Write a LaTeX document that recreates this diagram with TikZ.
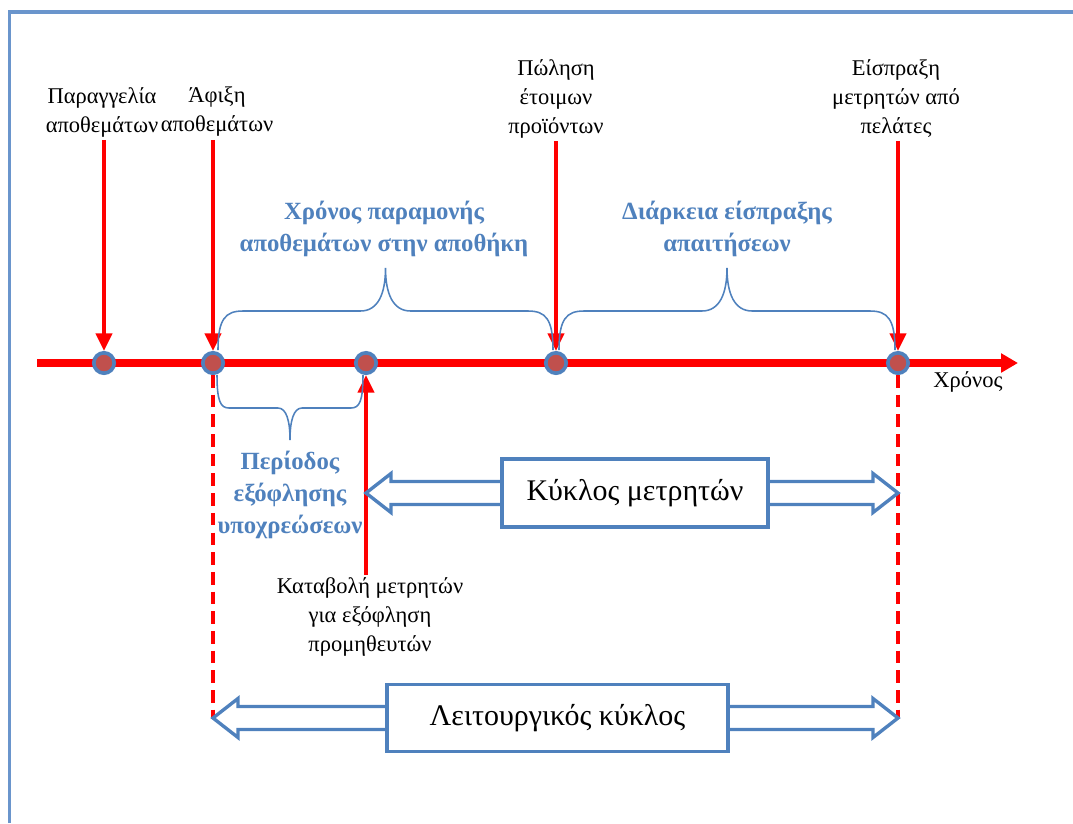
\documentclass[tikz,border=0pt]{standalone}
\usepackage{fontspec}
\setmainfont{Liberation Serif}
\usetikzlibrary{calc,arrows.meta}
\definecolor{tred}{HTML}{FF0000}
\definecolor{tblue}{HTML}{4F81BD}
\definecolor{tdot}{HTML}{C0504D}
\definecolor{tframe}{HTML}{6A95CC}
\tikzset{
  axis/.style   = {draw=tred, line width=5pt, -{Triangle[length=12pt,width=13pt]}},
  ev/.style     = {draw=tred, line width=2.6pt, -{Triangle[length=12.5pt,width=11.5pt]}},
  dsh/.style    = {draw=tred, line width=2.6pt, dash pattern=on 9pt off 5pt},
  dot/.style    = {circle, fill=tdot, draw=tblue, line width=2.6pt, minimum size=14.5pt, inner sep=0pt},
  lbl/.style    = {align=center, font=\fontsize{16}{20.6}\selectfont, inner sep=2pt},
  per/.style    = {align=center, font=\fontsize{17.6}{22.7}\selectfont\bfseries, text=tblue},
  brc/.style    = {draw=tblue, line width=1.1pt},
  cyc/.style    = {draw=tblue, line width=2.4pt, line join=miter},
  cycbox/.style = {cyc, fill=white, font=\fontsize{21.3}{25}\selectfont},
  frame/.style  = {draw=tframe, line width=2.2pt},
}
% curly brace between two points: level, tip and curl in px
\newcommand\spanbrace[5]{%
  \coordinate (bm) at ($(#1)!0.5!(#2)$);
  \draw[brc] (#1) .. controls +(0,{0.8*(#3)}) and +({-0.7*(#5)},0) .. ($(#1)+(#5,#3)$)
    -- ($(bm)+(-#5,#3)$) .. controls +({0.7*(#5)},0) and +(0,{0.6*(#3)-0.6*(#4)}) .. ($(bm)+(0,#4)$)
    .. controls +(0,{0.6*(#3)-0.6*(#4)}) and +({-0.7*(#5)},0) .. ($(bm)+(#5,#3)$)
    -- ($(#2)+(-#5,#3)$) .. controls +({0.7*(#5)},0) and +(0,{0.8*(#3)}) .. (#2);
}
% hollow double arrow on both sides of a box node
\newcommand\cyclearrow[3]{%
  \draw[cyc] ($(#1.west)+(0,-11.5)$) -- ($(#2)+(25,-11.5)$) -- ($(#2)+(25,-19.5)$) -- (#2)
    -- ($(#2)+(25,19.5)$) -- ($(#2)+(25,11.5)$) -- ($(#1.west)+(0,11.5)$);
  \draw[cyc] ($(#1.east)+(0,-11.5)$) -- ($(#3)+(-25,-11.5)$) -- ($(#3)+(-25,-19.5)$) -- (#3)
    -- ($(#3)+(-25,19.5)$) -- ($(#3)+(-25,11.5)$) -- ($(#1.east)+(0,11.5)$);
}

\begin{document}
\begin{tikzpicture}[x=0.025cm, y=-0.025cm]
\useasboundingbox (0,0) rectangle (1073,823);
\draw[frame] (9.5,823) -- (9.5,12) -- (1073,12);

% time axis
\coordinate (t0) at (37,363);
\coordinate (t1) at (1018,363);
\draw[axis] (t0) -- (t1);
\node[lbl] (ax) at (968,382) {Χρόνος};

\foreach \n/\x in {1/104, 2/213, 3/366, 4/556, 5/898} {
  \node[dot] (p\n) at (\x,363) {};
}

% events
\node[lbl] (l1) at (102,112) {Παραγγελία\\αποθεμάτων};
\node[lbl] (l2) at (217,112) {Άφιξη\\αποθεμάτων};
\node[lbl] (l4) at (556,99)  {Πώληση\\έτοιμων\\προϊόντων};
\node[lbl] (l5) at (896,99)  {Είσπραξη\\μετρητών από\\πελάτες};
\node[lbl] (l3) at (370,617) {Καταβολή μετρητών\\για εξόφληση\\προμηθευτών};
\foreach \n in {1,2,4,5} { \draw[ev] (l\n.south -| p\n) -- (p\n); }
\draw[ev] (l3.north -| p3) -- (p3);

% periods
\coordinate (b1a) at ($(p2)+(5,-13)$);
\coordinate (b1b) at ($(p4)+(-3,-13)$);
\coordinate (b2a) at ($(p4)+(3,-13)$);
\coordinate (b2b) at ($(p5)+(-3,-13)$);
\coordinate (b3a) at ($(p2)+(4,12)$);
\coordinate (b3b) at ($(p3)+(-3,12)$);
\spanbrace{b1a}{b1b}{-39}{-82}{25}
\spanbrace{b2a}{b2b}{-39}{-82}{25}
\spanbrace{b3a}{b3b}{33}{65}{12}
\node[per] (s1) at (384,229) {Χρόνος παραμονής\\αποθεμάτων στην αποθήκη};
\node[per] (s2) at (727,229) {Διάρκεια είσπραξης\\απαιτήσεων};
\node[per] (s3) at (290,495) {Περίοδος\\εξόφλησης\\υποχρεώσεων};

% cycles
\node[cycbox, minimum width=6.65cm, minimum height=1.7cm] (kyk) at (635,493) {Κύκλος μετρητών};
\node[cycbox, minimum width=8.525cm, minimum height=1.675cm] (lk) at (557.5,718) {Λειτουργικός κύκλος};
\coordinate (k0) at (p3 |- kyk);
\coordinate (k1) at (p5 |- kyk);
\coordinate (c0) at (p2 |- lk);
\coordinate (c1) at (p5 |- lk);
\draw[dsh] (p2) -- (c0);
\draw[dsh] (p5) -- (c1);
\cyclearrow{kyk}{k0}{k1}
\cyclearrow{lk}{c0}{c1}

\end{tikzpicture}
\end{document}
